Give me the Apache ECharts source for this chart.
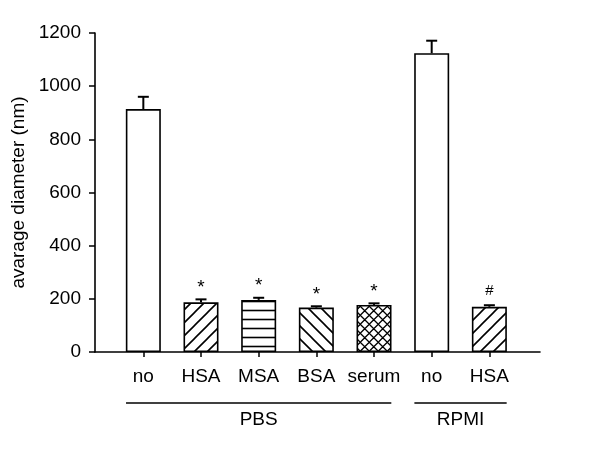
<!DOCTYPE html>
<html>
<head>
<meta charset="utf-8">
<script src="https://cdn.jsdelivr.net/npm/echarts@6/dist/echarts.min.js"></script>
<style>
  html, body { margin: 0; padding: 0; background: #fff; }
  #main { width: 600px; height: 449px; }
</style>
</head>
<body>
<div id="main"></div>
<script>
// values
var categories = ['no', 'HSA', 'MSA', 'BSA', 'serum', 'no', 'HSA'];
var diameters = [914, 187, 196, 167, 177, 1124, 170];
var errors = [46, 11, 8, 5, 6, 47, 6];
var marks = ['', '*', '*', '*', '*', '', '#'];
var fills = ['none', 'slash', 'hline', 'backslash', 'cross', 'none', 'slash'];
var groupNames = ['PBS', 'RPMI'];
var groupFirst = [0, 5];
var groupLast = [4, 6];

var FONT = 'Liberation Sans, Arial, sans-serif';
var OFFSET = 0.838;   // first bar centre on the x scale
var X_MAX = 7.716;

function pos(i) { return OFFSET + i; }

// hatch patterns for the bar fills
function makePattern(kind) {
  if (kind === 'none') return '#fff';
  var s = kind === 'hline' ? 9 : (kind === 'cross' ? 9.5 : 13);
  var c = document.createElement('canvas');
  c.width = s; c.height = s;
  var ctx = c.getContext('2d');
  ctx.fillStyle = '#fff';
  ctx.fillRect(0, 0, s, s);
  ctx.strokeStyle = '#000';
  ctx.lineWidth = kind === 'cross' ? 1.3 : 1.6;
  ctx.beginPath();
  if (kind === 'hline') {
    ctx.moveTo(0, s / 2); ctx.lineTo(s, s / 2);
  }
  if (kind === 'slash' || kind === 'cross') {
    ctx.moveTo(-1, s + 1); ctx.lineTo(s + 1, -1);
    ctx.moveTo(-2, 2); ctx.lineTo(2, -2);
    ctx.moveTo(s - 2, s + 2); ctx.lineTo(s + 2, s - 2);
  }
  if (kind === 'backslash' || kind === 'cross') {
    ctx.moveTo(-1, -1); ctx.lineTo(s + 1, s + 1);
    ctx.moveTo(s - 2, -2); ctx.lineTo(s + 2, 2);
    ctx.moveTo(-2, s - 2); ctx.lineTo(2, s + 2);
  }
  ctx.stroke();
  return { image: c, repeat: 'repeat' };
}

var barData = [];
var errData = [];
for (var i = 0; i < categories.length; i++) {
  barData.push({
    value: [pos(i), diameters[i]],
    itemStyle: { color: makePattern(fills[i]), borderColor: '#000', borderWidth: 1.6 }
  });
  errData.push([pos(i), diameters[i], errors[i]]);
}
var groupData = [];
for (var g = 0; g < groupNames.length; g++) {
  groupData.push([groupFirst[g], groupLast[g]]);
}

var chart = echarts.init(document.getElementById('main'));
chart.setOption({
  animation: false,
  backgroundColor: '#fff',
  textStyle: { fontFamily: FONT },
  grid: { left: 95, right: 60, top: 33, bottom: 97 },
  xAxis: {
    type: 'value',
    min: 0,
    max: X_MAX,
    splitLine: { show: false },
    axisLine: { lineStyle: { color: '#000', width: 1.6 } },
    axisTick: {
      customValues: categories.map(function (c, i) { return pos(i); }),
      length: 5,
      lineStyle: { color: '#000', width: 1.5 }
    },
    axisLabel: {
      customValues: categories.map(function (c, i) { return pos(i); }),
      formatter: function (v) { return categories[Math.round(v - OFFSET)]; },
      color: '#000',
      fontSize: 19,
      fontFamily: FONT,
      margin: 15
    }
  },
  yAxis: {
    type: 'value',
    min: 0,
    max: 1200,
    interval: 200,
    name: 'avarage diameter (nm)',
    nameLocation: 'middle',
    nameGap: 62,
    nameTextStyle: { color: '#000', fontSize: 19, fontFamily: FONT },
    splitLine: { show: false },
    axisLine: { show: true, lineStyle: { color: '#000', width: 1.6 } },
    axisTick: { show: true, length: 6, lineStyle: { color: '#000', width: 1.5 } },
    axisLabel: {
      color: '#000', fontSize: 19, fontFamily: FONT, margin: 14,
      formatter: function (v) { return String(v); }
    }
  },
  series: [
    {
      type: 'bar',
      barWidth: 35,
      data: barData
    },
    {
      type: 'custom',
      clip: false,
      z: 3,
      data: errData,
      renderItem: function (params, api) {
        var x = api.value(0), v = api.value(1), e = api.value(2);
        var base = api.coord([x, v]);
        var top = api.coord([x, v + e]);
        var half = 5.5;
        var m = marks[params.dataIndex];
        return {
          type: 'group',
          children: [
            { type: 'line', shape: { x1: base[0], y1: base[1], x2: top[0], y2: top[1] },
              style: { stroke: '#000', lineWidth: 2 } },
            { type: 'line', shape: { x1: top[0] - half, y1: top[1], x2: top[0] + half, y2: top[1] },
              style: { stroke: '#000', lineWidth: 2 } },
            { type: 'text', x: top[0], y: top[1] - (m === '#' ? 14 : 12),
              style: { text: m, fill: '#000', font: (m === '#' ? '15px ' : '19px ') + FONT,
                       align: 'center', verticalAlign: 'middle' } }
          ]
        };
      }
    },
    {
      type: 'custom',
      clip: false,
      data: groupData,
      renderItem: function (params, api) {
        var ext = 0.3;
        var a = api.coord([pos(api.value(0)) - ext, 0]);
        var b = api.coord([pos(api.value(1)) + ext, 0]);
        var y = a[1] + 51;
        return {
          type: 'group',
          children: [
            { type: 'line', shape: { x1: a[0], y1: y, x2: b[0], y2: y },
              style: { stroke: '#000', lineWidth: 1.6 } },
            { type: 'text', x: (a[0] + b[0]) / 2, y: y + 17,
              style: { text: groupNames[params.dataIndex], fill: '#000', font: '19px ' + FONT,
                       align: 'center', verticalAlign: 'middle' } }
          ]
        };
      }
    }
  ]
});
</script>
</body>
</html>
